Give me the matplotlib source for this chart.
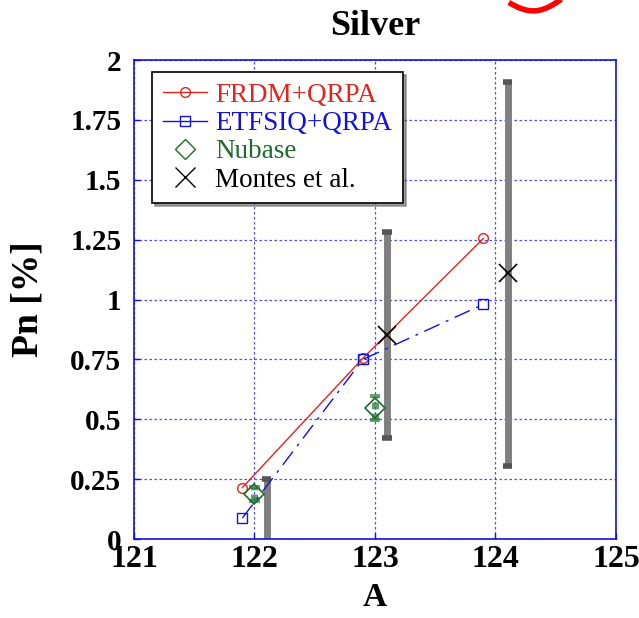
import numpy as np
import matplotlib.pyplot as plt
from matplotlib.lines import Line2D

plt.rcParams['font.family'] = ['Liberation Serif', 'DejaVu Serif']

# model predictions
a_model = [121.9, 122.9, 123.9]
frdm = [0.215, 0.755, 1.255]
etfsiq = [0.088, 0.75, 0.98]

# Nubase evaluation
a_nubase = [122.0, 123.0]
pn_nubase = [0.188, 0.548]
err_nubase = [0.03, 0.05]

# Montes et al. measurements
a_montes = [122.1, 123.1, 124.1]
pn_montes = [-0.1, 0.85, 1.11]
lo_montes = [-0.45, 0.42, 0.305]
hi_montes = [0.25, 1.28, 1.91]

fig = plt.figure(figsize=(6.39, 6.18), dpi=100)
ax = fig.add_axes([0.2097, 0.1278, 0.7543, 0.7751])

ax.set_xlim(121, 125)
ax.set_ylim(0, 2)
ax.set_xticks([121, 122, 123, 124, 125])
ax.set_yticks([0, 0.25, 0.5, 0.75, 1, 1.25, 1.5, 1.75, 2])
ax.set_yticklabels(['0', '0.25', '0.5', '0.75', '1', '1.25', '1.5', '1.75', '2'])
ax.grid(True, color='#2020ff', linestyle=(0, (2, 2)), linewidth=0.9, alpha=0.8)
ax.set_axisbelow(True)
for s in ax.spines.values():
    s.set_color('#1010e0')
    s.set_linewidth(1.2)
ax.tick_params(direction='in', colors='#1010e0', length=4, width=1)
ax.tick_params(axis='x', pad=4)
ax.tick_params(axis='y', pad=9)
for lab in ax.get_xticklabels():
    lab.set_color('black'); lab.set_fontsize(23); lab.set_fontweight('bold')
for lab in ax.get_yticklabels():
    lab.set_color('black'); lab.set_fontsize(21); lab.set_fontweight('bold')

# Montes error bars (grey) with caps
for x, lo, hi in zip(a_montes, lo_montes, hi_montes):
    ax.plot([x, x], [lo, hi], color='#808080', lw=5, solid_capstyle='butt', zorder=2, clip_on=True)
    ax.plot([x - 0.04, x + 0.04], [hi, hi], color='#555555', lw=4, solid_capstyle='butt', zorder=2)
    ax.plot([x - 0.04, x + 0.04], [lo, lo], color='#555555', lw=4, solid_capstyle='butt', zorder=2)

# Nubase error bars
for x, y, e in zip(a_nubase, pn_nubase, err_nubase):
    ax.plot([x, x], [y - e, y + e], color='#2e7d3a', lw=5, alpha=0.75,
            linestyle=(0, (1, 0.6)), zorder=3)
    ax.plot([x - 0.025, x + 0.025], [y + e, y + e], color='#2e7d3a', lw=3, alpha=0.7, zorder=3)
    ax.plot([x - 0.025, x + 0.025], [y - e, y - e], color='#2e7d3a', lw=3, alpha=0.7, zorder=3)

ax.plot(a_model, frdm, color='#e8211c', lw=1, marker='o', ms=7, mfc='none',
        mec='#e8211c', mew=1, zorder=4)
ax.plot(a_model, etfsiq, color='#1010e0', lw=1, linestyle=(0, (12, 5, 2, 5)),
        marker='s', ms=7, mfc='none', mec='#1010e0', mew=1, zorder=4)
ax.plot(a_nubase, pn_nubase, linestyle='none', marker='D', ms=10, mfc='none',
        mec='#1f6b2a', mew=1.2, zorder=5)
ax.plot(a_montes, pn_montes, linestyle='none', marker='x', ms=13, color='black',
        mew=1.2, zorder=5)

ax.set_title('Silver', fontsize=26, fontweight='bold', pad=18)
ax.set_xlabel('A', fontsize=24, fontweight='bold', labelpad=6)
ax.set_ylabel('Pn [%]', fontsize=27, fontweight='bold', labelpad=18)

handles = [
    Line2D([], [], color='#e8211c', lw=1, marker='o', ms=7, mfc='none', mec='#e8211c'),
    Line2D([], [], color='#1010e0', lw=1, marker='s', ms=7, mfc='none', mec='#1010e0'),
    Line2D([], [], linestyle='none', marker='D', ms=10, mfc='none', mec='#1f6b2a'),
    Line2D([], [], linestyle='none', marker='x', ms=15, color='black', mew=1),
]
labels = ['FRDM+QRPA', 'ETFSIQ+QRPA', 'Nubase', 'Montes et al.']
leg = ax.legend(handles, labels, loc='upper left', bbox_to_anchor=(0.037, 0.975),
                fontsize=19.5, frameon=True, fancybox=False, shadow=True,
                edgecolor='black', handlelength=1.65, handletextpad=0.3,
                labelspacing=0.12, borderpad=0.4, borderaxespad=0)
leg.get_frame().set_linewidth(1.2)
for t, c in zip(leg.get_texts(), ['#e8211c', '#1010e0', '#1f6b2a', 'black']):
    t.set_color(c)

# red scribble at top edge of the source image
t = np.linspace(0, 1, 30)
fig.add_artist(Line2D(0.8 + 0.075 * t, 1.0 - 0.02 * np.sin(np.pi * (t * 0.8 + 0.1)) + 0.005 * t,
                      color='red', lw=4, transform=fig.transFigure))

fig.savefig('out.png', dpi=100)
